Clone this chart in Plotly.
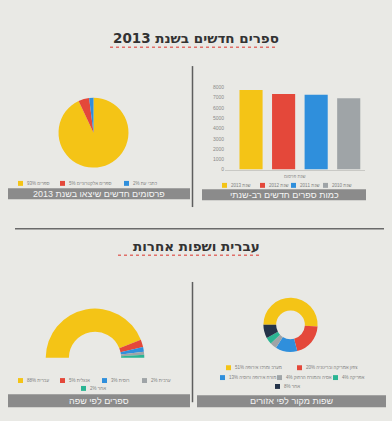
import plotly.graph_objects as go

W, H = 392, 421

# --- data -------------------------------------------------------------
# New publications released in 2013 (share, %)
pub_labels = ["ספרים", "ספרים אלקטרוניים", "כתבי עת"]
pub_values = [93, 5, 2]
pub_colors = ["#f4c416", "#e4483a", "#2f8fdc"]

# New books per year
year_labels = ["שנת 2013", "שנת 2012", "שנת 2011", "שנת 2010"]
year_values = [7750, 7370, 7280, 6950]
year_colors = ["#f4c416", "#e4483a", "#2f8fdc", "#9fa4a7"]
y_ticks = [0, 1000, 2000, 3000, 4000, 5000, 6000, 7000, 8000]

# Books by language (share, %)
lang_labels = ["עברית", "אנגלית", "רוסית", "ערבית", "אחר"]
lang_values = [88, 5, 3, 2, 2]
lang_colors = ["#f4c416", "#e4483a", "#2f8fdc", "#9fa4a7", "#2bb593"]

# Source languages by region (share, %)
region_labels = ["מערב ומרכז אירופה", "צפון אמריקה ובריטניה", "מזרח אירופה ורוסיה",
                 "אסיה והמזרח הרחוק", "אפריקה", "אחר"]
region_values = [51, 20, 13, 4, 4, 8]
region_colors = ["#f4c416", "#e4483a", "#2f8fdc", "#9fa4a7", "#2bb593", "#243349"]

section_titles = ["ספרים חדשים בשנת 2013", "עברית ושפות אחרות"]
captions = ["פרסומים חדשים שיצאו בשנת 2013", "כמות ספרים חדשים רב-שנתי",
            "ספרים לפי שפה", "שפות מקור לפי אזורים"]
bar_axis_title = "שנת פרסום"


def px(x):
    return x / W


def py(y):
    return 1 - y / H


BG = "#e9e9e5"
FONT = "Liberation Sans"

fig = go.Figure()

# Top-left pie
fig.add_trace(go.Pie(
    labels=pub_labels, values=pub_values, sort=False, direction="clockwise",
    rotation=0, marker=dict(colors=pub_colors, line=dict(width=0)),
    textinfo="none", showlegend=False,
    domain=dict(x=[px(58), px(129)], y=[py(167), py(96)]),
))

# Top-right bars
fig.add_trace(go.Bar(
    x=year_labels, y=year_values, marker=dict(color=year_colors, line=dict(width=0)),
    width=0.71, showlegend=False, xaxis="x", yaxis="y",
))

# Bottom-left half donut: a transparent slice equal to the total fills the lower half
fig.add_trace(go.Pie(
    labels=lang_labels + [""], values=lang_values + [sum(lang_values)],
    sort=False, direction="clockwise", rotation=-90, hole=0.53,
    marker=dict(colors=lang_colors + ["rgba(0,0,0,0)"], line=dict(width=0)),
    textinfo="none", showlegend=False,
    domain=dict(x=[px(45), px(145)], y=[py(410), py(310)]),
))

# Bottom-right donut
fig.add_trace(go.Pie(
    labels=region_labels, values=region_values, sort=False, direction="clockwise",
    rotation=-90, hole=0.53, marker=dict(colors=region_colors, line=dict(width=0)),
    textinfo="none", showlegend=False,
    domain=dict(x=[px(263), px(318)], y=[py(354), py(299)]),
))

shapes = []
annotations = []

# Section titles with dotted red underline
for title, ty, ux0, ux1, uy in [(section_titles[0], 36, 110, 278, 45),
                                (section_titles[1], 247, 118, 262, 256)]:
    annotations.append(dict(
        text=title, x=0.5, y=py(ty), xref="paper", yref="paper", showarrow=False,
        xanchor="center", yanchor="middle",
        font=dict(family="DejaVu Sans", size=13.5, color="#333333", weight=700),
    ))
    shapes.append(dict(type="line", xref="paper", yref="paper",
                       x0=px(ux0), x1=px(ux1), y0=py(uy), y1=py(uy),
                       line=dict(color="#e06f68", width=1.5, dash="dot")))

# Dividers
shapes.append(dict(type="line", xref="paper", yref="paper", x0=px(192.5), x1=px(192.5),
                   y0=py(64), y1=py(207), line=dict(color="#5e5e5e", width=1.5)))
shapes.append(dict(type="line", xref="paper", yref="paper", x0=px(15), x1=px(384),
                   y0=py(229), y1=py(229), line=dict(color="#6a6a6a", width=1.5)))
shapes.append(dict(type="line", xref="paper", yref="paper", x0=px(192.5), x1=px(192.5),
                   y0=py(283), y1=py(405), line=dict(color="#5e5e5e", width=1.5)))

# Caption bands
for text, (x0, x1, y0, y1) in zip(captions, [(8, 190, 188, 199), (202, 366, 189, 200),
                                             (8, 190, 397, 410), (197, 386, 398, 410)]):
    shapes.append(dict(type="rect", xref="paper", yref="paper", x0=px(x0), x1=px(x1),
                       y0=py(y1), y1=py(y0), fillcolor="#8b8b8b", line=dict(width=0),
                       layer="below"))
    annotations.append(dict(
        text=text, x=px((x0 + x1) / 2), y=py((y0 + y1) / 2), xref="paper", yref="paper",
        showarrow=False, xanchor="center", yanchor="middle",
        font=dict(family=FONT, size=9, color="#f4f4f4"),
    ))


def legend(labels, colors, positions, size=4.5):
    for lab, col, (sx, sy) in zip(labels, colors, positions):
        shapes.append(dict(type="rect", xref="paper", yref="paper",
                           x0=px(sx), x1=px(sx + 5), y0=py(sy + 2.5), y1=py(sy - 2.5),
                           fillcolor=col, line=dict(width=0)))
        annotations.append(dict(
            text=lab, x=px(sx + 7), y=py(sy), xref="paper", yref="paper",
            showarrow=False, xanchor="left", yanchor="middle",
            font=dict(family=FONT, size=size, color="#808080"),
        ))


legend([f"{v}% {l}" for v, l in zip(pub_values, pub_labels)], pub_colors,
       [(18, 183), (60, 183), (124, 183)])
legend(year_labels, year_colors, [(222, 185), (260, 185), (291, 185), (323, 185)])
legend([f"{v}% {l}" for v, l in zip(lang_values, lang_labels)], lang_colors,
       [(18, 383), (60, 383), (102, 383), (142, 383), (81, 391)])
legend([f"{v}% {l}" for v, l in zip(region_values, region_labels)], region_colors,
       [(226, 370), (297, 370), (220, 380), (277, 380), (333, 380), (275, 389)])

annotations.append(dict(
    text=bar_axis_title, x=px(295), y=py(176), xref="paper", yref="paper",
    showarrow=False, xanchor="center", yanchor="middle",
    font=dict(family=FONT, size=4.5, color="#8c8c8c"),
))

fig.update_layout(
    width=W, height=H, margin=dict(l=0, r=0, t=0, b=0),
    paper_bgcolor=BG, plot_bgcolor="rgba(0,0,0,0)",
    font=dict(family=FONT),
    xaxis=dict(domain=[px(225), px(365)], range=[-0.8, 3.5], showticklabels=False,
               showgrid=False, zeroline=False, showline=True, linecolor="#c9c9c5",
               linewidth=1, ticks="", fixedrange=True),
    yaxis=dict(domain=[py(169), py(85.7)], range=[0, 8000], tickvals=y_ticks,
               showgrid=False, zeroline=False, showline=False, ticks="",
               tickfont=dict(size=5, color="#8a8a8a", family=FONT), fixedrange=True),
    shapes=shapes, annotations=annotations, bargap=0.29,
)

fig.write_html("out.html")
